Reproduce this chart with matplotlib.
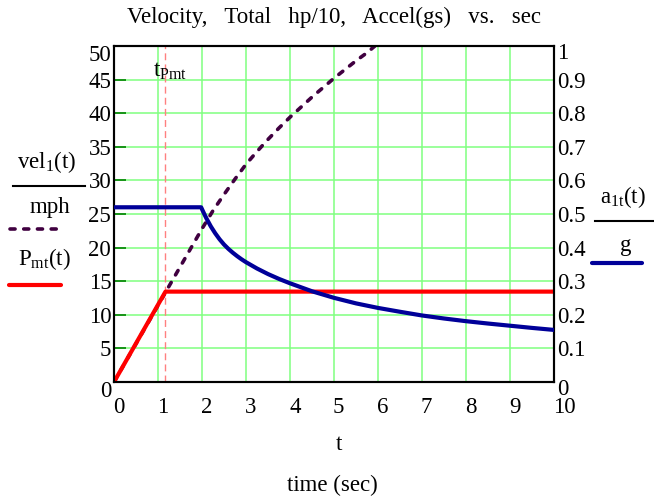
import matplotlib
matplotlib.use('Agg')
import matplotlib.pyplot as plt
from matplotlib.lines import Line2D
from matplotlib.transforms import ScaledTranslation

# 数据
t_vel = [0, 0.5, 1.0, 1.5, 2.0, 2.25, 2.5, 2.75, 3.0, 3.25, 3.5, 3.75, 4.0, 4.25, 4.5, 4.75,
         5.0, 5.25, 5.5, 5.75, 5.93]
vel = [0, 5.7, 11.4, 17.1, 22.8, 25.5, 27.9, 30.2, 32.4, 34.3, 36.1, 37.8, 39.4, 40.9, 42.4, 43.8,
       45.2, 46.5, 47.8, 49.0, 50.0]

t_p = [0, 1.17, 10]
p_mt = [0, 13.45, 13.45]

t_acc = [0, 1.98, 2.05, 2.1, 2.2, 2.3, 2.4, 2.5, 2.6, 2.7, 2.8, 2.9, 3.0, 3.25, 3.5, 3.75, 4.0,
         4.5, 5.0, 5.5, 6.0, 6.5, 7.0, 7.5, 8.0, 8.5, 9.0, 9.5, 10.0]
acc = [0.52, 0.52, 0.5004, 0.4872, 0.4632, 0.4427, 0.4247, 0.4092, 0.3962, 0.3848, 0.3745,
       0.3651, 0.3566, 0.3378, 0.3213, 0.3068, 0.2938, 0.270, 0.2505, 0.234, 0.2205, 0.209,
       0.198, 0.189, 0.181, 0.174, 0.1675, 0.161, 0.155]

t_pmt = 1.17

left_ticks = list(range(0, 51, 5))
right_ticks = [0, 0.1, 0.2, 0.3, 0.4, 0.5, 0.6, 0.7, 0.8, 0.9, 1]
right_labels = ['0', '0.1', '0.2', '0.3', '0.4', '0.5', '0.6', '0.7', '0.8', '0.9', '1']
x_ticks = list(range(0, 11))

FS = 16.5
plt.rcParams['font.family'] = ['Liberation Serif', 'DejaVu Serif']
plt.rcParams['mathtext.fontset'] = 'custom'
plt.rcParams['mathtext.rm'] = 'Liberation Serif'
plt.rcParams['mathtext.it'] = 'Liberation Serif:italic'
plt.rcParams['font.size'] = FS

W, H = 654, 500
fig = plt.figure(figsize=(W / 100, H / 100), dpi=100)
ax = fig.add_axes([114 / W, 1 - 382 / H, 440 / W, 336 / H])

grid_c = '#80ff80'
ax.set_xlim(0, 10)
ax.set_ylim(0, 50)
ax.set_xticks(x_ticks)
ax.set_yticks(left_ticks)
ax.grid(True, color=grid_c, linewidth=1.1, zorder=0)
ax.set_axisbelow(True)

# 曲线
ax.plot(t_vel, vel, color='#400040', linewidth=2.6, dashes=(1.4, 2.4),
        dash_capstyle='round', zorder=3)
ax.plot(t_p, p_mt, color='#ff0000', linewidth=3.0, zorder=4, solid_capstyle='butt')
ax.axvline(t_pmt, color='#ff8080', linewidth=1.0, dashes=(5, 3), zorder=2)

ax2 = ax.twinx()
ax2.set_ylim(0, 1)
ax2.set_yticks(right_ticks)
ax2.set_yticklabels(right_labels)
ax2.plot(t_acc, acc, color='#000099', linewidth=3.0, zorder=5, solid_joinstyle='round')

ax.text(0.88, 46.3, r'$\mathrm{t}_{\mathrm{Pmt}}$', ha='left', va='center', fontsize=FS)

for a in (ax, ax2):
    for s in a.spines.values():
        s.set_linewidth(1.5)
        s.set_color('black')

ax.tick_params(axis='y', direction='in', length=8.6, width=1.2, color='#008000', pad=2,
               labelsize=FS)
ax.tick_params(axis='x', length=0, pad=11, labelsize=FS)
ax2.tick_params(axis='y', length=0, pad=2, labelsize=FS)

for lab in ax.get_xticklabels():
    lab.set_ha('left')
    lab.set_transform(lab.get_transform() + ScaledTranslation(-1 / 100, 0, fig.dpi_scale_trans))

# 两端的刻度标签往下挪
for a, shift in ((ax, 7), (ax2, 5)):
    labs = a.get_yticklabels()
    for lab in (labs[0], labs[-1]):
        lab.set_transform(lab.get_transform() + ScaledTranslation(0, -shift / 100, fig.dpi_scale_trans))

# 标题和轴标题
fig.text(334 / W, 1 - 17 / H, 'Velocity,   Total   hp/10,   Accel(gs)   vs.   sec', ha='center',
         va='center', fontsize=FS)
fig.text(339 / W, 1 - 445 / H, 't', ha='center', va='center', fontsize=FS)
fig.text(332 / W, 1 - 485 / H, 'time (sec)', ha='center', va='center', fontsize=FS)

# 左侧图例
fig.text(47 / W, 1 - 162 / H, r'vel$_{\mathrm{1}}$(t)', ha='center', va='center', fontsize=FS)
fig.add_artist(Line2D([13 / W, 85 / W], [1 - 186 / H, 1 - 186 / H], color='black', linewidth=1.5))
fig.text(50 / W, 1 - 208 / H, 'mph', ha='center', va='center', fontsize=FS)
fig.add_artist(Line2D([10 / W, 60 / W], [1 - 229 / H, 1 - 229 / H], color='#400040', linewidth=2.6,
                      dashes=(1.4, 2.4), dash_capstyle='round'))
fig.text(44 / W, 1 - 259 / H, r'P$_{\mathrm{mt}}$(t)', ha='center', va='center', fontsize=FS)
fig.add_artist(Line2D([9 / W, 61 / W], [1 - 285 / H, 1 - 285 / H], color='#ff0000', linewidth=3.0,
                      solid_capstyle='round'))

# 右侧图例
fig.text(623 / W, 1 - 197 / H, r'a$_{\mathrm{1t}}$(t)', ha='center', va='center', fontsize=FS)
fig.add_artist(Line2D([595 / W, 654 / W], [1 - 221 / H, 1 - 221 / H], color='black', linewidth=1.5))
fig.text(626 / W, 1 - 245 / H, 'g', ha='center', va='center', fontsize=FS)
fig.add_artist(Line2D([592 / W, 642 / W], [1 - 263 / H, 1 - 263 / H], color='#000099', linewidth=3.0,
                      solid_capstyle='round'))

fig.savefig('out.png', dpi=100)
